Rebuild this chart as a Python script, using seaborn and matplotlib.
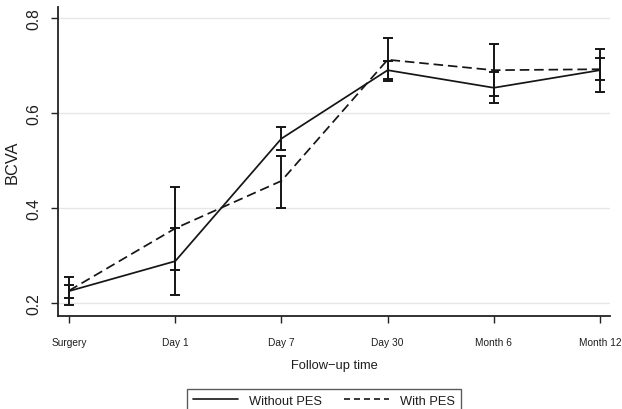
import numpy as np
import pandas as pd
import matplotlib
matplotlib.use("Agg")
import matplotlib.pyplot as plt
import seaborn as sns
from matplotlib.lines import Line2D

categories = ["Surgery", "Day 1", "Day 7", "Day 30", "Month 6", "Month 12"]
without_pes = [0.225, 0.288, 0.546, 0.690, 0.653, 0.690]
without_lo = [0.211, 0.217, 0.522, 0.672, 0.621, 0.644]
without_hi = [0.238, 0.358, 0.571, 0.710, 0.686, 0.735]
with_pes = [0.226, 0.357, 0.457, 0.712, 0.690, 0.692]
with_lo = [0.196, 0.269, 0.400, 0.667, 0.636, 0.670]
with_hi = [0.255, 0.444, 0.510, 0.758, 0.745, 0.716]
y_ticks = [0.2, 0.4, 0.6, 0.8]

sns.set_theme(style="white")
plt.rcParams["font.family"] = ["Liberation Sans", "DejaVu Sans"]

pos = np.arange(len(categories))
df = pd.DataFrame({
    "pos": np.concatenate([pos, pos]),
    "BCVA": without_pes + with_pes,
    "group": ["Without PES"] * len(pos) + ["With PES"] * len(pos),
})

fig = plt.figure(figsize=(6.22, 4.10), dpi=100)
ax = fig.add_axes([58 / 622, 1 - 317 / 410, (610 - 58) / 622, (317 - 8) / 410])

for yv in y_ticks:
    ax.axhline(yv, color="#e6e6e6", lw=1.0, zorder=0)

sns.lineplot(data=df, x="pos", y="BCVA", hue="group", style="group",
             palette={"Without PES": "#151515", "With PES": "#151515"},
             dashes={"Without PES": "", "With PES": (5.5, 2.8)},
             lw=1.25, ax=ax, legend=False, zorder=3)

for mean, lo, hi in [(without_pes, without_lo, without_hi), (with_pes, with_lo, with_hi)]:
    mean = np.array(mean)
    err = np.vstack([mean - np.array(lo), np.array(hi) - mean])
    ax.errorbar(pos, mean, yerr=err, fmt="none", ecolor="#151515",
                elinewidth=1.4, capsize=3.6, capthick=1.4, zorder=4)

ax.set_xlim(-0.104, 5.094)
ax.set_ylim(0.1726, 0.823)
ax.set_xticks(pos)
ax.set_xticklabels(categories, fontsize=7.3, color="#1e1e1e")
ax.set_yticks(y_ticks)
ax.set_yticklabels([f"{v:.1f}" for v in y_ticks], rotation=90, va="center",
                   fontsize=11.3, color="#1e1e1e")
ax.tick_params(axis="x", direction="out", length=5, width=1.0, pad=10,
               color="#222222", bottom=True)
ax.tick_params(axis="y", direction="out", length=5, width=1.0, pad=7,
               color="#222222", left=True)
ax.set_xlabel("Follow\u2212up time", fontsize=9.3, labelpad=9, color="#1e1e1e")
ax.set_ylabel("BCVA", fontsize=11.8, labelpad=5, color="#1e1e1e")

for s in ["top", "right"]:
    ax.spines[s].set_visible(False)
for s in ["left", "bottom"]:
    ax.spines[s].set_color("#222222")
    ax.spines[s].set_linewidth(1.3)

handles = [Line2D([], [], color="#151515", lw=1.2),
           Line2D([], [], color="#151515", lw=1.2, ls=(0, (3.6, 2.4)))]
leg = fig.legend(handles, ["Without PES", "With PES"], loc="upper center",
                 bbox_to_anchor=(324 / 622, 1 - 390 / 410), ncol=2,
                 frameon=True, fancybox=False, fontsize=9.3,
                 handlelength=3.5, handletextpad=0.85, columnspacing=1.7,
                 borderpad=0.45, borderaxespad=0)
leg.get_frame().set_edgecolor("#333333")
leg.get_frame().set_linewidth(1.0)
for t in leg.get_texts():
    t.set_color("#1e1e1e")

fig.savefig("out.png", dpi=100)
